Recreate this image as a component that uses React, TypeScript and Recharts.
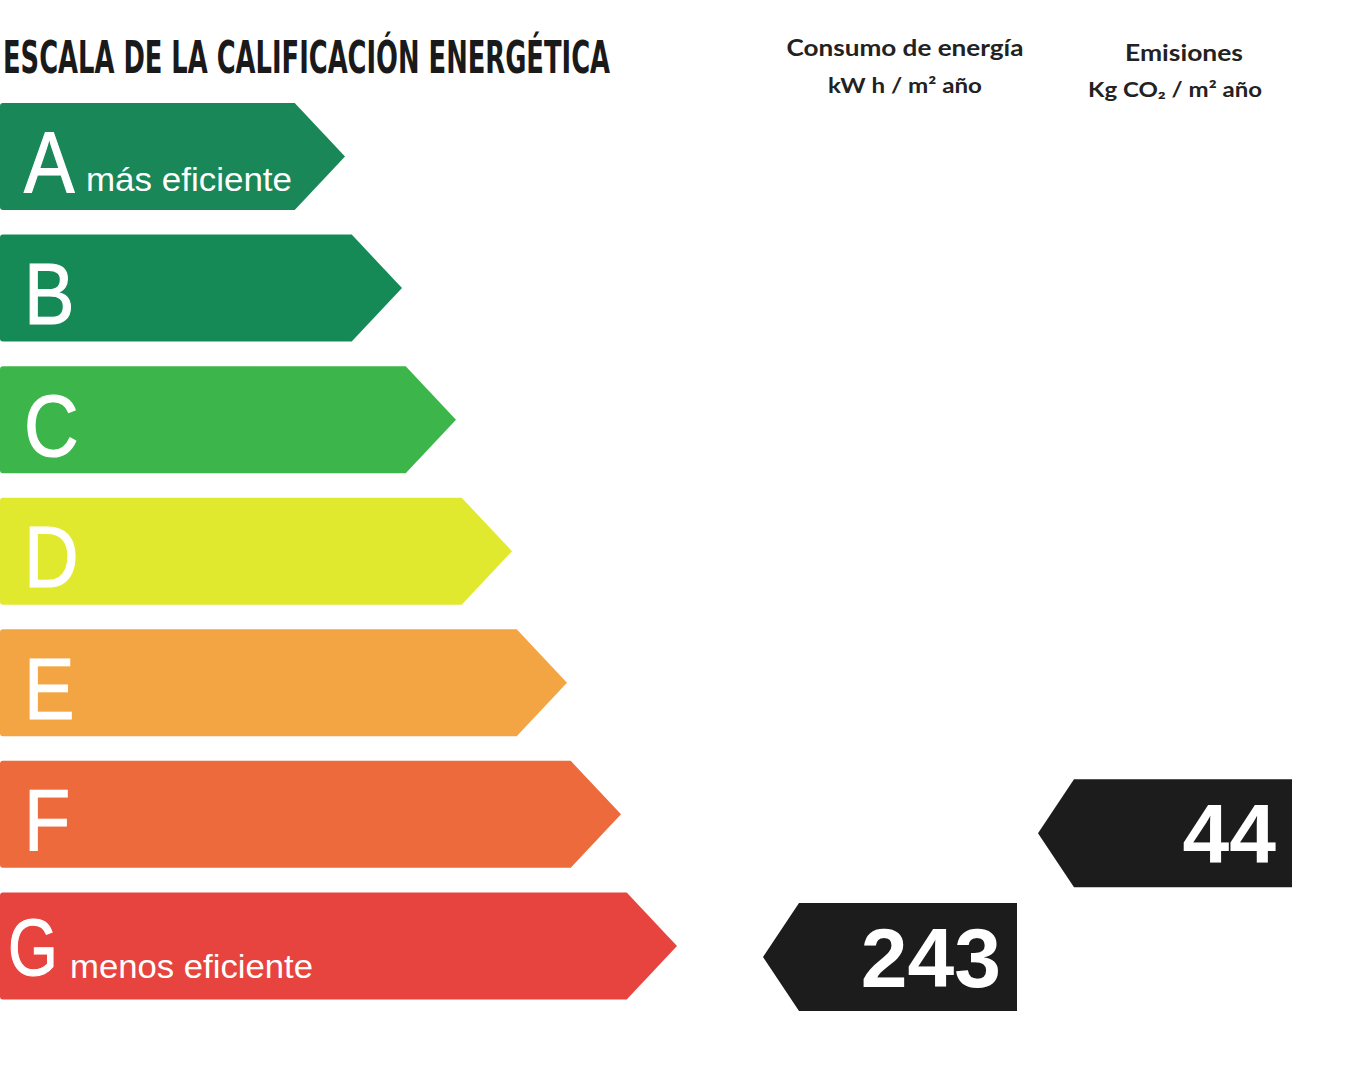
import React from 'react';
import { BarChart, Bar, XAxis, YAxis, LabelList } from 'recharts';

// ---- data ----
const categories = ['A', 'B', 'C', 'D', 'E', 'F', 'G'];
const arrowLengths = [345, 402, 456, 512, 567, 621, 677];
const subtitles = ['más eficiente', '', '', '', '', '', 'menos eficiente'];
const consumoValues: (number | null)[] = [null, null, null, null, null, null, 243];
const emisionesValues: (number | null)[] = [null, null, null, null, null, 44, null];
const colors = ['#1a8758', '#168a56', '#3cb64a', '#e1e92f', '#f3a543', '#ec6a3c', '#e8443f'];
const titleText = 'ESCALA DE LA CALIFICACIÓN ENERGÉTICA';
const consumoHeader = ['Consumo de energía', 'kW h / m² año'];
const emisionesHeader = ['Emisiones', 'Kg CO₂ / m² año'];

const data = categories.map((cat, i) => ({
  cat,
  len: arrowLengths[i],
  color: colors[i],
  sub: subtitles[i],
  consumo: consumoValues[i],
  emisiones: emisionesValues[i],
}));

const W = 1347;
const H = 1080;
const NARROW = "'Liberation Sans Narrow', 'Arial Narrow', 'DejaVu Sans Condensed', sans-serif";
const SANS = "'Liberation Sans', Arial, sans-serif";
const HEAD = "Lato, 'Open Sans', sans-serif";

const ArrowShape = (props: any) => {
  const { x, y, width, height, payload } = props;
  const tip = height * 0.47;
  const r = 3;
  const d = `M${x + r},${y} L${x + width - tip},${y} L${x + width},${y + height / 2} L${x + width - tip},${y + height} L${x + r},${y + height} Q${x},${y + height} ${x},${y + height - r} L${x},${y + r} Q${x},${y} ${x + r},${y} Z`;
  return <path d={d} fill={payload.color} />;
};

const LetterLabel = (props: any) => {
  const { x, y, height, index } = props;
  const row = data[index];
  const cy = y + height / 2;
  const isG = row.cat === 'G';
  const letterX = x + (isG ? 8 : 24);
  const base = cy + (isG ? 29 : 36);
  return (
    <g>
      <text
        x={0}
        y={0}
        transform={`translate(${letterX},${base}) scale(${isG ? 0.8 : 0.86},1)`}
        fill="#ffffff"
        fontFamily={SANS}
        fontSize={isG ? 80 : 88}
        stroke="#ffffff"
        strokeWidth={1.2}
      >
        {row.cat}
      </text>
      {row.sub ? (
        <text
          x={letterX + (isG ? 62 : 62)}
          y={cy + (isG ? 32 : 34)}
          fill="#ffffff"
          fontFamily={SANS}
          fontSize={34}
          textLength={isG ? 243 : 206}
          lengthAdjust="spacingAndGlyphs"
        >
          {row.sub}
        </text>
      ) : null}
    </g>
  );
};

const makeMarker = (right: number, dy: number) => (props: any) => {
  const { y, height, value } = props;
  if (value === null || value === undefined) return null;
  const mh = 108;
  const mw = 254;
  const tip = 36;
  const cy = y + height / 2 + dy;
  const top = cy - mh / 2;
  const left = right - mw;
  const d = `M${left + tip},${top} L${right},${top} L${right},${top + mh} L${left + tip},${top + mh} L${left},${cy} Z`;
  return (
    <g>
      <path d={d} fill="#1c1c1c" />
      <text
        x={right - 16}
        y={cy + 30}
        textAnchor="end"
        fill="#ffffff"
        fontFamily={SANS}
        fontWeight={700}
        fontSize={84}
      >
        {value}
      </text>
    </g>
  );
};

export default function App() {
  return (
    <div style={{ position: 'absolute', left: 0, top: 0, width: W, height: H, background: '#ffffff' }}>
      <BarChart
        width={W}
        height={H}
        data={data}
        layout="vertical"
        margin={{ top: 91, right: W - 700, bottom: 68, left: 0 }}
      >
        <XAxis type="number" domain={[0, 700]} hide />
        <YAxis type="category" dataKey="cat" hide />
        <Bar dataKey="len" barSize={107} shape={<ArrowShape />} isAnimationActive={false}>
          <LabelList dataKey="cat" content={<LetterLabel />} />
          <LabelList dataKey="consumo" content={makeMarker(1017, 11)} />
          <LabelList dataKey="emisiones" content={makeMarker(1292, 19)} />
        </Bar>
      </BarChart>
      <svg width={W} height={130} style={{ position: 'absolute', left: 0, top: 0 }}>
        <text
          x={3}
          y={73}
          fontFamily={NARROW}
          fontWeight={700}
          fontSize={44}
          fill="#1a1a1a"
          textLength={607}
          lengthAdjust="spacingAndGlyphs"
        >
          {titleText}
        </text>
        <text x={905} y={56} textAnchor="middle" fontFamily={HEAD} fontWeight={700} fontSize={22} fill="#222" textLength={237} lengthAdjust="spacingAndGlyphs">
          {consumoHeader[0]}
        </text>
        <text x={905} y={93} textAnchor="middle" fontFamily={HEAD} fontWeight={700} fontSize={20} fill="#222" textLength={154} lengthAdjust="spacingAndGlyphs">
          {consumoHeader[1]}
        </text>
        <text x={1184} y={61} textAnchor="middle" fontFamily={HEAD} fontWeight={700} fontSize={22} fill="#222" textLength={118} lengthAdjust="spacingAndGlyphs">
          {emisionesHeader[0]}
        </text>
        <text x={1175} y={97} textAnchor="middle" fontFamily={HEAD} fontWeight={700} fontSize={20} fill="#222" textLength={174} lengthAdjust="spacingAndGlyphs">
          {emisionesHeader[1]}
        </text>
      </svg>
    </div>
  );
}
